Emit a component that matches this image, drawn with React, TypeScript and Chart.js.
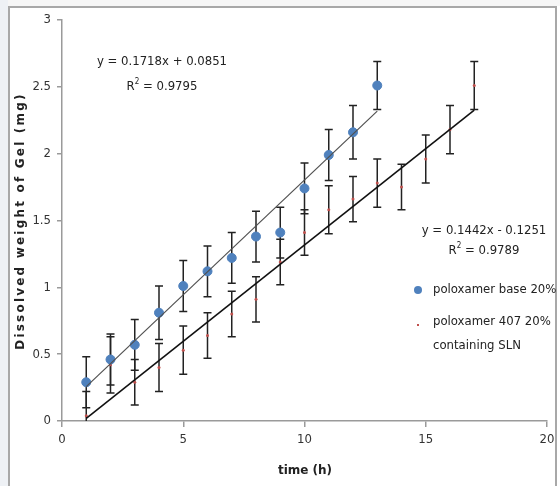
import React, { useEffect, useRef } from "react";
import { Chart, registerables } from "chart.js";

Chart.register(...registerables);

// ---- data ----
const timeBase = [1, 2, 3, 4, 5, 6, 7, 8, 9, 10, 11, 12, 13];
const baseValues = [0.29, 0.46, 0.57, 0.81, 1.01, 1.12, 1.22, 1.38, 1.41, 1.74, 1.99, 2.16, 2.51];
const baseErrors = [0.19, 0.19, 0.19, 0.2, 0.19, 0.19, 0.19, 0.19, 0.19, 0.19, 0.19, 0.2, 0.18];

const timeSln = [1, 2, 3, 4, 5, 6, 7, 8, 9, 10, 11, 12, 13, 14, 15, 16, 17];
const slnValues = [0.04, 0.42, 0.29, 0.4, 0.53, 0.64, 0.8, 0.91, 1.19, 1.41, 1.58, 1.66, 1.78, 1.75, 1.96, 2.18, 2.51];
const slnErrors = [0.18, 0.21, 0.17, 0.18, 0.18, 0.17, 0.17, 0.17, 0.17, 0.17, 0.18, 0.17, 0.18, 0.17, 0.18, 0.18, 0.18];

const baseTrend = { slope: 0.1718, intercept: 0.0851, r2: "0.9795" };
const slnTrend = { slope: 0.1442, intercept: -0.1251, r2: "0.9789" };

const seriesNames = ["poloxamer base 20%", "poloxamer 407 20%", "containing SLN"];
const xTicks = [0, 5, 10, 15, 20];
const yAxisTitle = "Dissolved weight of Gel (mg)";
const xAxisTitle = "time (h)";

const FONT = "'Liberation Sans Narrow', 'DejaVu Sans Condensed', 'Liberation Sans', sans-serif";
const BLUE = "#4f81bd";
const RED = "#c0504d";

const errorBarPlugin = {
  id: "errorBars",
  beforeDatasetsDraw(chart: any) {
    const { ctx, chartArea, scales } = chart;
    const x = scales.x;
    const y = scales.y;
    ctx.save();
    ctx.beginPath();
    ctx.rect(chartArea.left, chartArea.top - 2, chartArea.width, chartArea.height + 2);
    ctx.clip();
    ctx.strokeStyle = "#222";
    ctx.lineWidth = 1.5;
    chart.data.datasets.forEach((ds: any) => {
      if (!ds.errors) return;
      ds.data.forEach((p: any, i: number) => {
        const e = ds.errors[i];
        const px = x.getPixelForValue(p.x);
        const top = y.getPixelForValue(p.y + e);
        const bot = y.getPixelForValue(p.y - e);
        ctx.beginPath();
        ctx.moveTo(px, top);
        ctx.lineTo(px, bot);
        ctx.moveTo(px - 4, top);
        ctx.lineTo(px + 4, top);
        ctx.moveTo(px - 4, bot);
        ctx.lineTo(px + 4, bot);
        ctx.stroke();
      });
    });
    ctx.restore();
  },
};

function drawR2(ctx: CanvasRenderingContext2D, cx: number, cy: number, val: string) {
  ctx.save();
  ctx.font = `13px ${FONT}`;
  const rW = ctx.measureText("R").width;
  ctx.font = `8px ${FONT}`;
  const sW = ctx.measureText("2").width;
  ctx.font = `13px ${FONT}`;
  const rest = " = " + val;
  const restW = ctx.measureText(rest).width;
  const total = rW + sW + restW;
  const sx = cx - total / 2;
  ctx.textAlign = "left";
  ctx.textBaseline = "middle";
  ctx.fillText("R", sx, cy);
  ctx.font = `8px ${FONT}`;
  ctx.fillText("2", sx + rW, cy - 5);
  ctx.font = `13px ${FONT}`;
  ctx.fillText(rest, sx + rW + sW, cy);
  ctx.restore();
}

const annotationPlugin = {
  id: "annotations",
  beforeDraw(chart: any) {
    const { ctx, width, height } = chart;
    ctx.save();
    ctx.fillStyle = "#ffffff";
    ctx.fillRect(0, 0, width, height);
    ctx.fillStyle = "#eef1f5";
    ctx.fillRect(0, 0, 8, height);
    ctx.fillStyle = "#f6f6f6";
    ctx.fillRect(8, 0, width - 8, 6);
    ctx.strokeStyle = "#a8a8a8";
    ctx.lineWidth = 2;
    ctx.beginPath();
    ctx.moveTo(9, height + 5);
    ctx.lineTo(9, 7);
    ctx.lineTo(556, 7);
    ctx.lineTo(556, height + 5);
    ctx.stroke();
    ctx.restore();
  },
  afterDraw(chart: any) {
    const { ctx } = chart;
    const fmt = (t: any) =>
      `y = ${t.slope}x ${t.intercept < 0 ? "-" : "+"} ${Math.abs(t.intercept)}`;

    ctx.save();
    ctx.fillStyle = "#222";
    ctx.textBaseline = "middle";
    ctx.textAlign = "center";
    ctx.font = `13px ${FONT}`;
    ctx.fillText(fmt(baseTrend), 162, 62);
    ctx.fillText(fmt(slnTrend), 484, 231);
    drawR2(ctx, 162, 87, baseTrend.r2);
    drawR2(ctx, 484, 251, slnTrend.r2);
    ctx.restore();

    // legend
    ctx.save();
    ctx.fillStyle = BLUE;
    ctx.beginPath();
    ctx.arc(418, 290, 4, 0, Math.PI * 2);
    ctx.fill();
    ctx.fillStyle = RED;
    ctx.fillRect(417, 324, 2, 2);
    ctx.fillStyle = "#222";
    ctx.font = `13px ${FONT}`;
    ctx.textAlign = "left";
    ctx.textBaseline = "middle";
    ctx.fillText(seriesNames[0], 433, 290);
    ctx.fillText(seriesNames[1], 433, 322);
    ctx.fillText(seriesNames[2], 433, 346);

    // axis titles
    ctx.font = `bold 12px 'DejaVu Sans', sans-serif`;
    ctx.textAlign = "center";
    ctx.fillText(xAxisTitle, 305, 471);
    ctx.translate(21, 221);
    ctx.rotate(-Math.PI / 2);
    (ctx as any).letterSpacing = "2.2px";
    ctx.fillText(yAxisTitle, 0, 0);
    ctx.restore();
  },
};

export default function App() {
  const ref = useRef<HTMLCanvasElement | null>(null);
  useEffect(() => {
    if (!ref.current) return;
    const line = (t: any, x0: number, x1: number) => [
      { x: x0, y: t.slope * x0 + t.intercept },
      { x: x1, y: t.slope * x1 + t.intercept },
    ];
    const chart = new Chart(ref.current, {
      type: "scatter",
      data: {
        datasets: [
          {
            label: "trend base",
            type: "line",
            data: line(baseTrend, timeBase[0], timeBase[timeBase.length - 1]),
            borderColor: "#505050",
            borderWidth: 1.2,
            pointRadius: 0,
            fill: false,
          } as any,
          {
            label: "trend sln",
            type: "line",
            data: line(slnTrend, timeSln[0], timeSln[timeSln.length - 1]),
            borderColor: "#111",
            borderWidth: 1.6,
            pointRadius: 0,
            fill: false,
          } as any,
          {
            label: seriesNames[0],
            data: timeBase.map((t, i) => ({ x: t, y: baseValues[i] })),
            errors: baseErrors,
            backgroundColor: BLUE,
            borderColor: BLUE,
            pointRadius: 4.5,
          } as any,
          {
            label: seriesNames[1] + " " + seriesNames[2],
            data: timeSln.map((t, i) => ({ x: t, y: slnValues[i] })),
            errors: slnErrors,
            backgroundColor: RED,
            borderColor: RED,
            pointRadius: 1.5,
            pointBorderWidth: 0,
          } as any,
        ],
      },
      options: {
        animation: false,
        responsive: false,
        devicePixelRatio: 1,
        layout: { padding: { left: 0, top: 20, right: 13, bottom: 0 } },
        plugins: { legend: { display: false }, tooltip: { enabled: false } },
        scales: {
          x: {
            type: "linear",
            min: 0,
            max: 20,
            afterBuildTicks: (s: any) => {
              s.ticks = xTicks.map((v) => ({ value: v }));
            },
            afterFit: (s: any) => {
              s.height = 65;
            },
            ticks: { color: "#333", font: { family: FONT, size: 13 }, padding: 5 },
            grid: { drawOnChartArea: false, drawTicks: true, tickLength: 6, color: "#9a9a9a", lineWidth: 1.5 },
            border: { display: true, color: "#9a9a9a", width: 1.5 },
          },
          y: {
            type: "linear",
            min: 0,
            max: 3,
            ticks: {
              stepSize: 0.5,
              color: "#333",
              font: { family: FONT, size: 13 },
              padding: 6,
              callback: (v: any) => String(Number(v)),
            },
            afterFit: (s: any) => {
              s.width = 62;
            },
            grid: { drawOnChartArea: false, drawTicks: true, tickLength: 5, color: "#9a9a9a", lineWidth: 1.5 },
            border: { display: true, color: "#9a9a9a", width: 1.5 },
          },
        },
      },
      plugins: [errorBarPlugin, annotationPlugin],
    });
    return () => chart.destroy();
  }, []);
  return (
    <div style={{ position: "fixed", left: 0, top: 0, width: 560, height: 486 }}>
      <canvas ref={ref} width={560} height={486} style={{ width: 560, height: 486, display: "block" }} />
    </div>
  );
}
